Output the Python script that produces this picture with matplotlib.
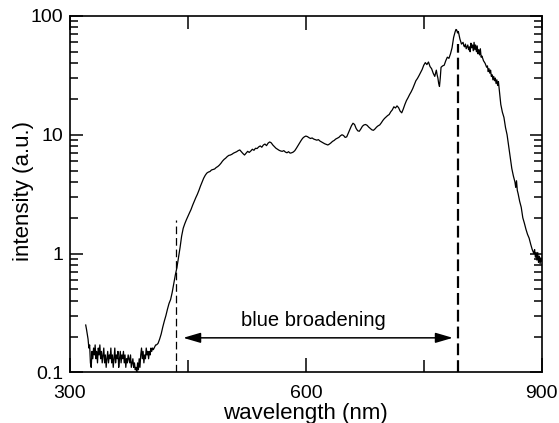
import matplotlib
matplotlib.use("Agg")
import matplotlib.pyplot as plt
from matplotlib.ticker import FixedLocator, NullFormatter, FixedFormatter, LogLocator

plt.rcParams['font.family'] = ['Liberation Sans', 'DejaVu Sans']
plt.rcParams['lines.scale_dashes'] = False

# ---- data ----
wavelength = [
    320, 321, 323, 324, 325, 326, 327, 328, 329, 330, 331, 332, 333, 334, 335, 336, 337, 338, 339, 340,
    341, 342, 343, 344, 345, 346, 347, 348, 349, 350, 351, 352, 353, 354, 355, 356, 357, 358, 359, 360,
    361, 362, 363, 364, 365, 366, 367, 368, 369, 370, 371, 372, 373, 374, 375, 376, 377, 378, 379, 380,
    381, 382, 383, 384, 385, 386, 387, 388, 389, 390, 391, 392, 393, 394, 395, 396, 397, 398, 399, 400,
    401, 402, 403, 404, 405, 406, 407, 408, 409, 410, 412, 414, 416, 418, 420, 422, 424, 426, 428, 430,
    432, 434, 436, 438, 440, 442, 444, 446, 448, 450, 452, 454, 456, 458, 460, 462, 464, 466, 468, 470,
    472, 474, 476, 478, 480, 482, 484, 486, 488, 490, 492, 494, 496, 498, 500, 502, 504, 506, 508, 510,
    512, 514, 516, 518, 520, 522, 524, 526, 528, 530, 532, 534, 536, 538, 540, 542, 544, 546, 548, 550,
    552, 554, 556, 558, 560, 562, 564, 566, 568, 570, 572, 574, 576, 578, 580, 582, 584, 586, 588, 590,
    592, 594, 596, 598, 600, 602, 604, 606, 608, 610, 612, 614, 616, 618, 620, 622, 624, 626, 628, 630,
    632, 634, 636, 638, 640, 642, 644, 646, 648, 650, 652, 654, 656, 658, 660, 662, 664, 666, 668, 670,
    672, 674, 676, 678, 680, 682, 684, 686, 688, 690, 692, 694, 696, 698, 700, 702, 704, 706, 708, 710,
    712, 714, 716, 718, 720, 722, 724, 726, 728, 730, 732, 734, 736, 738, 740, 742, 744, 746, 748, 750,
    752, 754, 756, 758, 760, 762, 764, 766, 767, 768, 769, 770, 771, 772, 774, 776, 778, 780, 782, 784,
    786, 788, 790, 791, 792, 793, 794, 796, 798, 800, 801, 802, 803, 804, 805, 806, 807, 808, 809, 810,
    811, 812, 813, 814, 815, 816, 817, 818, 819, 820, 821, 822, 823, 824, 826, 828, 830, 831, 832, 833,
    834, 835, 836, 837, 838, 839, 840, 841, 842, 843, 844, 845, 846, 848, 850, 852, 854, 856, 858, 860,
    862, 864, 866, 867, 868, 869, 870, 872, 874, 876, 878, 880, 882, 884, 886, 888, 890, 891, 892, 893,
    894, 895, 896, 897, 898, 899, 900,
]
intensity = [
    0.25, 0.23, 0.19, 0.16, 0.17, 0.12, 0.11, 0.15, 0.13, 0.16, 0.14, 0.17, 0.13, 0.15, 0.12, 0.16, 0.14, 0.17, 0.13, 0.15,
    0.12, 0.14, 0.16, 0.12, 0.14, 0.11, 0.13, 0.15, 0.12, 0.14, 0.13, 0.16, 0.12, 0.14, 0.11, 0.13, 0.16, 0.12, 0.14, 0.13,
    0.15, 0.11, 0.13, 0.15, 0.12, 0.14, 0.13, 0.15, 0.12, 0.14, 0.11, 0.13, 0.12, 0.14, 0.13, 0.12, 0.14, 0.11, 0.12, 0.13,
    0.11, 0.12, 0.105, 0.11, 0.10, 0.12, 0.105, 0.13, 0.11, 0.14, 0.16, 0.13, 0.15, 0.12, 0.14, 0.13, 0.16, 0.14, 0.15, 0.13,
    0.15, 0.14, 0.16, 0.15, 0.16, 0.155, 0.16, 0.165, 0.17, 0.17, 0.175, 0.19, 0.21, 0.24, 0.27, 0.30, 0.34, 0.38, 0.41, 0.47,
    0.56, 0.66, 0.76, 0.92, 1.12, 1.40, 1.63, 1.78, 1.92, 2.05, 2.20, 2.35, 2.55, 2.75, 2.95, 3.15, 3.40, 3.70, 4.00, 4.30,
    4.55, 4.75, 4.85, 4.90, 5.05, 5.10, 5.15, 5.30, 5.40, 5.55, 5.75, 6.00, 6.20, 6.35, 6.55, 6.70, 6.75, 6.85, 7.00, 7.10,
    7.20, 7.35, 7.45, 7.20, 6.95, 6.75, 7.00, 7.25, 7.10, 7.30, 7.55, 7.40, 7.70, 7.65, 7.90, 8.05, 7.85, 8.20, 8.35, 8.10,
    8.50, 8.70, 8.55, 8.20, 7.95, 7.70, 7.55, 7.40, 7.30, 7.25, 7.35, 7.15, 7.05, 7.20, 7.00, 7.05, 7.15, 7.35, 7.70, 8.10,
    8.55, 8.95, 9.35, 9.60, 9.75, 9.65, 9.45, 9.30, 9.40, 9.20, 9.10, 9.00, 9.10, 8.85, 8.70, 8.55, 8.40, 8.30, 8.20, 8.35,
    8.55, 8.80, 8.95, 9.20, 9.35, 9.50, 9.80, 10.0, 9.85, 9.50, 9.60, 10.3, 11.0, 11.9, 12.5, 12.2, 11.3, 10.8, 10.7, 11.2,
    11.8, 12.1, 12.2, 12.0, 11.6, 11.3, 11.0, 10.9, 11.2, 11.6, 11.9, 12.1, 12.6, 13.2, 13.7, 14.1, 14.5, 14.8, 15.6, 16.2,
    17.2, 16.8, 17.5, 16.9, 15.8, 15.3, 16.5, 18.0, 19.4, 20.5, 21.8, 23.0, 24.5, 26.5, 28.5, 29.8, 31.5, 33.5, 35.5, 38.5,
    40.5, 39.0, 41.0, 37.5, 36.0, 33.0, 31.0, 35.0, 32.0, 30.0, 27.0, 25.5, 30.0, 37.0, 38.0, 38.5, 42.0, 45.0, 44.0, 48.0,
    54.0, 66.0, 74.0, 77.0, 76.0, 72.0, 74.0, 64.0, 58.0, 60.0, 56.0, 55.0, 58.0, 53.0, 55.0, 57.0, 52.0, 55.0, 50.0, 59.0,
    54.0, 57.0, 51.0, 60.0, 52.0, 57.0, 50.0, 56.0, 48.0, 52.0, 47.0, 53.0, 45.0, 46.0, 42.0, 40.0, 37.0, 38.0, 34.0, 36.0,
    33.0, 35.0, 31.0, 32.0, 29.0, 31.0, 28.5, 30.0, 27.0, 29.0, 26.0, 28.0, 24.0, 18.0, 15.5, 14.0, 11.5, 10.0, 8.0, 6.5,
    5.2, 4.5, 4.0, 3.6, 4.1, 3.4, 3.2, 2.75, 2.45, 2.0, 1.80, 1.60, 1.45, 1.35, 1.20, 1.08, 1.00, 1.08, 0.93, 1.02,
    0.88, 1.02, 0.84, 0.95, 0.82, 0.92, 0.86,
]

xticks_major = [300, 600, 900]
xticks_minor = [450, 750]
yticks_major = [0.1, 1, 10, 100]
ytick_labels = ["0.1", "1", "10", "100"]

left_marker_x = 435
left_marker_top = 1.9
right_marker_x = 793
right_marker_top = 58
arrow_start = 444
arrow_end = 787
arrow_y = 0.195
annotation_text = "blue broadening"

# ---- figure ----
fig = plt.figure(figsize=(5.59, 4.23), dpi=100)
ax = fig.add_axes([0.1252, 0.1199, 0.969 - 0.1252, 0.9622 - 0.1199])

ax.plot(wavelength, intensity, color='black', lw=0.9)

ax.vlines(left_marker_x, 0.1, left_marker_top, colors='black', lw=0.9, linestyles=(0, (5.5, 2.8)))
ax.vlines(right_marker_x, 0.1, right_marker_top, colors='black', lw=1.6, linestyles=(0, (8.5, 3.6)))

ax.annotate('', xy=(arrow_end, arrow_y), xytext=(arrow_start, arrow_y),
            arrowprops=dict(arrowstyle='<|-|>,head_length=0.75,head_width=0.22',
                            color='black', lw=1.1, mutation_scale=14,
                            shrinkA=0, shrinkB=0))
ax.text((arrow_start + arrow_end) / 2 - 6, 0.275, annotation_text, ha='center', va='center', fontsize=14.5)

ax.set_yscale('log')
ax.set_xlim(300, 900)
ax.set_ylim(0.1, 100)

ax.xaxis.set_major_locator(FixedLocator(xticks_major))
ax.xaxis.set_minor_locator(FixedLocator(xticks_minor))
ax.xaxis.set_minor_formatter(NullFormatter())
ax.yaxis.set_major_locator(FixedLocator(yticks_major))
ax.yaxis.set_major_formatter(FixedFormatter(ytick_labels))
ax.yaxis.set_minor_locator(LogLocator(base=10, subs=[2, 3, 4, 5, 6, 7, 8, 9]))
ax.yaxis.set_minor_formatter(NullFormatter())

ax.tick_params(axis='both', which='both', direction='in', top=True, right=True, labelsize=14, width=1.1)
ax.tick_params(axis='x', which='major', length=10, pad=9)
ax.tick_params(axis='x', which='minor', length=9)
ax.tick_params(axis='y', which='major', length=9, pad=5)
ax.tick_params(axis='y', which='minor', length=5.5)

for s in ax.spines.values():
    s.set_linewidth(1.2)

ax.set_xlabel('wavelength (nm)', fontsize=16)
ax.xaxis.set_label_coords(0.5, -0.085)
ax.set_ylabel('intensity (a.u.)', fontsize=16)
ax.yaxis.set_label_coords(-0.077, 0.51)

fig.savefig('out.png', dpi=100)
